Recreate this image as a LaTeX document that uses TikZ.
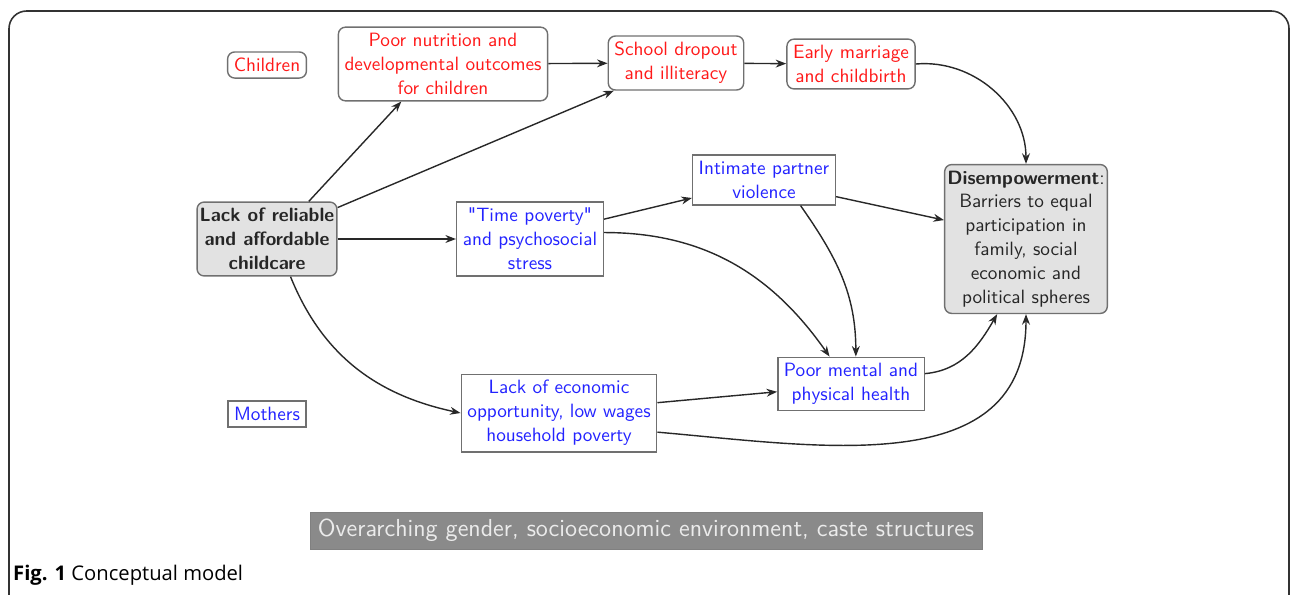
\documentclass[tikz,border=0pt]{standalone}
\usepackage{fontspec}
\usepackage{tikz}
\usetikzlibrary{arrows.meta, positioning}
\newfontfamily\capfont{Open Sans}
\definecolor{edgegray}{RGB}{112,112,112}
\definecolor{boxfill}{RGB}{226,226,226}
\definecolor{envfill}{RGB}{138,138,138}
\definecolor{arrgray}{RGB}{40,40,40}
\definecolor{kidred}{RGB}{255,25,25}
\definecolor{momblue}{RGB}{35,35,255}

\begin{document}
\begin{tikzpicture}[
    box/.style={
      rectangle, draw=edgegray, line width=0.8pt,
      font=\sffamily\fontsize{10.95}{13.6}\selectfont, align=center, inner sep=3.5pt
    },
    kidbox/.style={box, rounded corners=4pt, text=kidred},
    mombox/.style={box, text=momblue},
    corebox/.style={box, rounded corners=4pt, fill=boxfill, text=black!85, inner xsep=1.5pt},
    envbox/.style={rectangle, fill=envfill, draw=black!50,
      font=\sffamily\fontsize{14}{17}\selectfont, text=white!92!black,
      minimum width=13.44cm, minimum height=0.74cm},
    arr/.style={-{Stealth[length=6pt,width=4.5pt]}, line width=0.8pt, arrgray}
  ]
    \useasboundingbox (0,0) rectangle (25.92,-11.88);
    \draw[line width=0.9pt, black!80, rounded corners=10pt] (0.18,-0.22) rectangle (25.78,-12.5);

    % Children row
    \node[kidbox] (children)  at (5.34,-1.30)  {Children};
    \node[kidbox] (nutrition) at (8.86,-1.28)  {Poor nutrition and\\developmental outcomes\\for children};
    \node[kidbox] (dropout)   at (13.52,-1.26) {School dropout\\and illiteracy};
    \node[kidbox] (marriage)  at (17.02,-1.28) {Early marriage\\and childbirth};

    % Middle row
    \node[corebox] (childcare) at (5.34,-4.78) {\bfseries Lack of reliable\\\bfseries and affordable\\\bfseries childcare};
    \node[mombox] (timepov) at (10.60,-4.78) {\textquotedbl Time poverty\textquotedbl\\and psychosocial\\stress};
    \node[mombox] (ipv)     at (15.28,-3.60) {Intimate partner\\violence};
    \node[corebox] (disemp) at (20.52,-4.78) {\textbf{Disempowerment}:\\Barriers to equal\\participation in\\family, social\\economic and\\political spheres};

    % Mothers row
    \node[mombox] (mothers) at (5.34,-8.28)  {Mothers};
    \node[mombox] (econ)    at (11.18,-8.26) {Lack of economic\\opportunity, low wages\\household poverty};
    \node[mombox] (health)  at (17.02,-7.68) {Poor mental and\\physical health};

    % Context and caption
    \node[envbox] (context) at (12.92,-10.61) {Overarching gender, socioeconomic environment, caste structures};
    \node[anchor=west, font=\capfont\fontsize{11.5}{13}\selectfont] (caption) at (0.14,-11.5) {\textbf{Fig. 1} Conceptual model};

    % Arrows -- children pathway
    \draw[arr] (childcare.42)  -- (nutrition.-138);
    \draw[arr] (childcare.24)  -- (dropout.-156);
    \draw[arr] (nutrition)     -- (dropout);
    \draw[arr] (dropout)       -- (marriage);
    \draw[arr] (marriage.east) to[out=5, in=90] (disemp.north);

    % Arrows -- mothers pathway
    \draw[arr] (childcare) -- (timepov);
    \draw[arr] (childcare.-58) to[out=-68, in=168] (econ.west);
    \draw[arr] (timepov.15)  -- (ipv.194);
    \draw[arr] (timepov.5)   to[out=0, in=125] (health.128);
    \draw[arr] (ipv.-13)     -- (disemp.167);
    \draw[arr] (ipv.-35)     to[out=-55, in=90] (health.80);
    \draw[arr] (econ.6)      -- (health.186);
    \draw[arr] (econ.-11)    to[out=-5, in=-90, looseness=1.1] (disemp.south);
    \draw[arr] (health.8)    to[out=5, in=-120] (disemp.-111);

  \end{tikzpicture}
\end{document}
